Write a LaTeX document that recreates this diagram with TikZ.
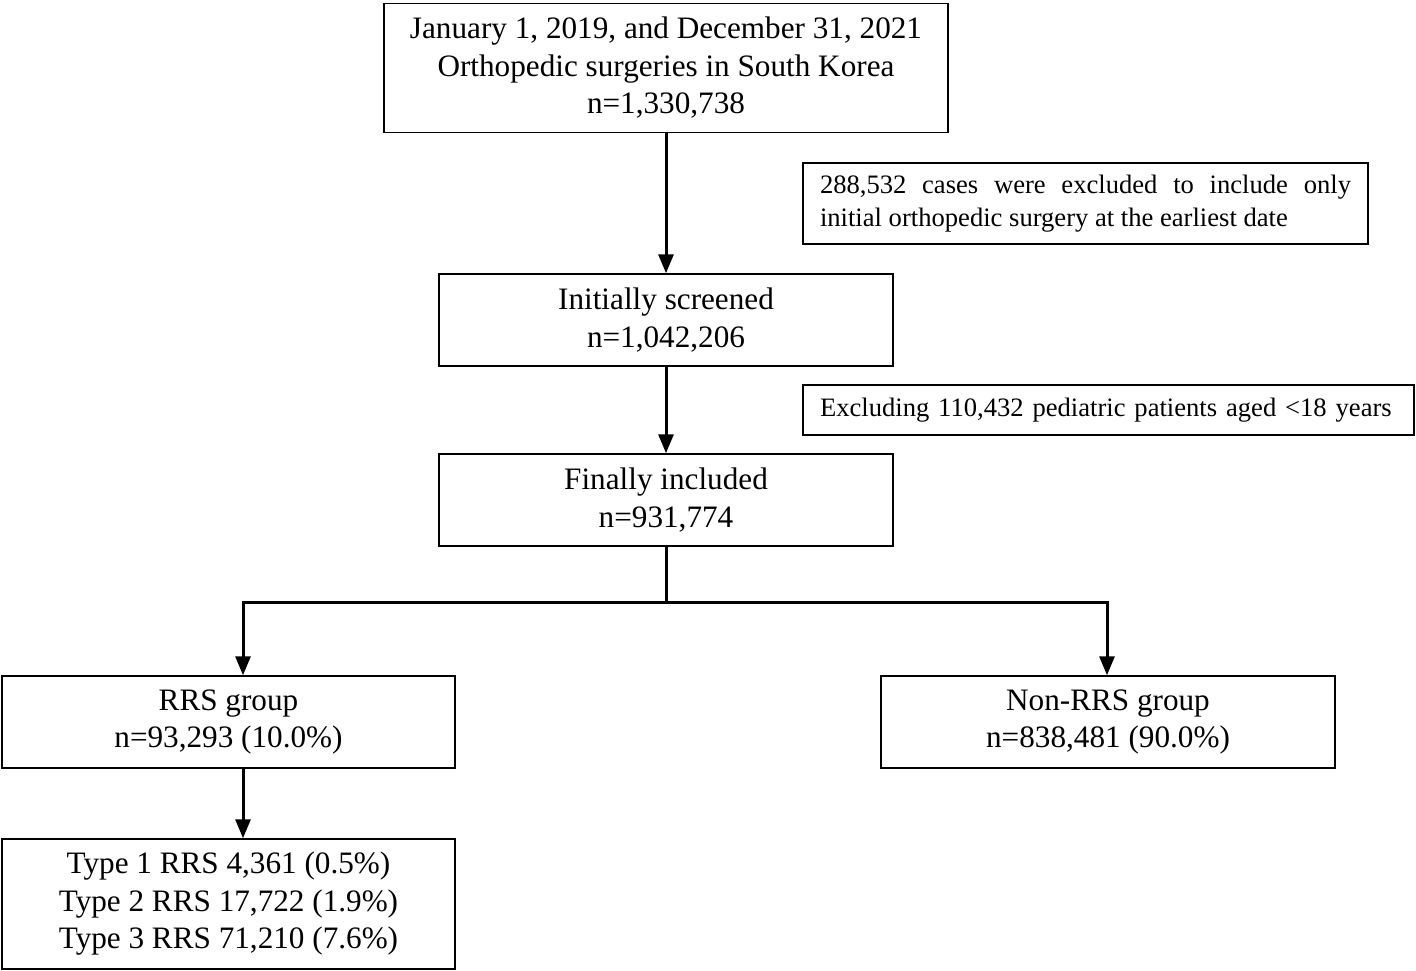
\documentclass[tikz,border=0pt]{standalone}
\usepackage{fontspec}
\setmainfont{Liberation Serif}
\usetikzlibrary{arrows.meta}
\begin{document}
\begin{tikzpicture}[x=1pt,y=-1pt,
  box/.style={draw,line width=1.5pt,inner sep=0pt,align=center,font=\fontsize{31.2}{37.5}\selectfont},
  note/.style={draw,line width=1.5pt,inner ysep=0pt,inner xsep=17pt,font=\fontsize{26.6}{33}\selectfont},
  arr/.style={line width=3pt,-{Triangle[width=15pt,length=19pt]}}]
\useasboundingbox (0,0) rectangle (1416,971);
\node[box,minimum width=564pt,minimum height=129pt] (top) at (666,68)
  {January 1, 2019, and December 31, 2021\\Orthopedic surgeries in South Korea\\n=1,330,738};
\node[note,text width=531pt,align=justify,minimum height=81pt] (ex1) at (1085.5,203.5)
  {288,532 cases were excluded to include only\linebreak initial orthopedic surgery at the earliest date};
\node[box,minimum width=454pt,minimum height=92pt] (init) at (666,320)
  {Initially screened\\n=1,042,206};
\node[note,text width=577pt,align=left,minimum height=50pt] (ex2) at (1108.5,410)
  {Excluding 110,432 pediatric patients aged <18 years};
\node[box,minimum width=454pt,minimum height=92pt] (final) at (666,500)
  {Finally included\\n=931,774};
\node[box,minimum width=453pt,minimum height=92pt] (rrs) at (228.5,722)
  {RRS group\\n=93,293 (10.0\%)};
\node[box,minimum width=454pt,minimum height=92pt] (non) at (1108,722)
  {Non-RRS group\\n=838,481 (90.0\%)};
\node[box,minimum width=453pt,minimum height=130pt] (type) at (228.5,904)
  {Type 1 RRS 4,361 (0.5\%)\\Type 2 RRS 17,722 (1.9\%)\\Type 3 RRS 71,210 (7.6\%)};
\coordinate (jl) at (243,602);
\coordinate (jr) at (1107,602);
\draw[arr] (top.south) -- (init.north);
\draw[arr] (init.south) -- (final.north);
\draw[arr] (final.south) |- (jl) -- (jl |- rrs.north);
\draw[arr] (final.south |- jl) -| (jr |- non.north);
\draw[arr] (rrs.south -| jl) -- (type.north -| jl);
\end{tikzpicture}
\end{document}
